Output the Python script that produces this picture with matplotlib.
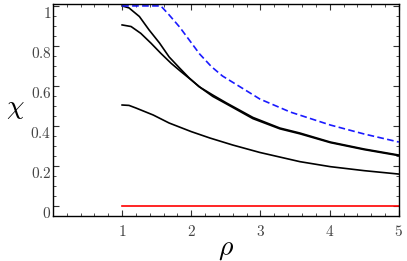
import matplotlib
matplotlib.use('Agg')
import matplotlib.pyplot as plt
from matplotlib.ticker import MultipleLocator, FixedLocator, FixedFormatter
from matplotlib.transforms import ScaledTranslation

plt.rcParams['mathtext.fontset'] = 'cm'

# кривые
rho_a = [1.0, 1.10, 1.25, 1.39, 1.54, 1.68, 1.83, 1.97, 2.11, 2.31, 2.51, 2.89, 3.28, 3.57, 4.01, 4.5, 5.0]
chi_a = [1.0, 0.99, 0.947, 0.88, 0.815, 0.745, 0.69, 0.64, 0.597, 0.555, 0.515, 0.443, 0.39, 0.365, 0.32, 0.285, 0.255]

rho_b = [1.0, 1.13, 1.27, 1.42, 1.56, 1.71, 1.85, 2.0, 2.14, 2.31, 2.51, 2.89, 3.28, 3.57, 4.01, 4.5, 5.0]
chi_b = [0.905, 0.897, 0.863, 0.813, 0.763, 0.713, 0.672, 0.63, 0.59, 0.548, 0.51, 0.437, 0.386, 0.361, 0.317, 0.282, 0.252]

rho_c = [1.0, 1.1, 1.2, 1.45, 1.68, 2.0, 2.27, 2.6, 2.99, 3.57, 4.01, 4.5, 5.0]
chi_c = [0.505, 0.503, 0.49, 0.455, 0.415, 0.372, 0.34, 0.305, 0.268, 0.222, 0.197, 0.177, 0.16]

rho_blue = [1.0, 1.56, 1.68, 1.83, 1.97, 2.12, 2.29, 2.45, 2.85, 2.99, 3.43, 4.01, 4.5, 5.0]
chi_blue = [1.0, 1.0, 0.955, 0.895, 0.83, 0.76, 0.697, 0.65, 0.565, 0.535, 0.47, 0.405, 0.36, 0.32]

rho_red = [1.0, 5.0]
chi_red = [0.0, 0.0]

yticks = [0, 0.2, 0.4, 0.6, 0.8, 1.0]
ytick_labels = ['$0$', '$0.2$', '$0.4$', '$0.6$', '$0.8$', '$1$']
xticks = [1, 2, 3, 4, 5]
xtick_labels = ['$1$', '$2$', '$3$', '$4$', '$5$']

fig = plt.figure(figsize=(4.07, 2.61), dpi=100)
ax = fig.add_axes([0.130, 0.172, 0.850, 0.813])

ax.plot(rho_a, chi_a, color='black', lw=1.2)
ax.plot(rho_b, chi_b, color='black', lw=1.2)
ax.plot(rho_c, chi_c, color='black', lw=1.2)
ax.plot(rho_blue, chi_blue, color='#1a1aff', lw=1.2, dashes=(4, 2))
ax.plot(rho_red, chi_red, color='red', lw=1.2)

ax.set_xlim(0, 5)
ax.set_ylim(-0.05, 1.01)

ax.xaxis.set_major_locator(FixedLocator(xticks))
ax.xaxis.set_major_formatter(FixedFormatter(xtick_labels))
ax.xaxis.set_minor_locator(MultipleLocator(0.2))
ax.yaxis.set_major_locator(FixedLocator(yticks))
ax.yaxis.set_major_formatter(FixedFormatter(ytick_labels))
ax.yaxis.set_minor_locator(MultipleLocator(0.05))

ax.tick_params(which='both', direction='in', top=True, right=True, labelsize=11, colors='#333333', labelcolor='#444444')
ax.tick_params(which='major', length=4, width=0.8)
ax.tick_params(which='minor', length=2, width=0.6)
ax.tick_params(axis='y', pad=1)
ax.tick_params(axis='x', pad=6)

# сдвинем подписи оси Y немного вниз, как в оригинале
offset = ScaledTranslation(0, -0.06, fig.dpi_scale_trans)
for lab in ax.get_yticklabels():
    lab.set_transform(lab.get_transform() + offset)

for s in ax.spines.values():
    s.set_linewidth(1.0)

ax.set_xlabel(r'$\rho$', fontsize=20, labelpad=-4)
ax.set_ylabel(r'$\chi$', fontsize=20, rotation=0, labelpad=6)
ax.yaxis.set_label_coords(-0.11, 0.45)

fig.savefig('out.png', dpi=100)
